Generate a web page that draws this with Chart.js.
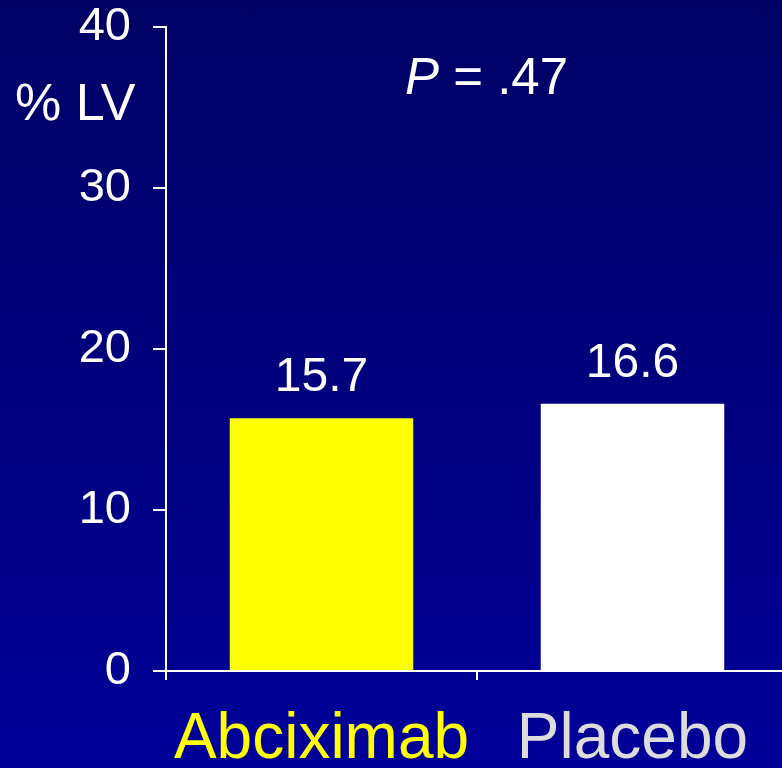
<!DOCTYPE html>
<html>
<head>
<meta charset="utf-8">
<script src="https://cdn.jsdelivr.net/npm/chart.js@4"></script>
<style>
  html, body { margin: 0; padding: 0; width: 782px; height: 768px; overflow: hidden;
    background: linear-gradient(to bottom, #000064 0%, #000098 100%); }
  #wrap { position: absolute; left: 0; top: 0; width: 790px; height: 768px; }
</style>
</head>
<body>
<div id="wrap"><canvas id="c" width="790" height="768"></canvas></div>
<script>
const categories = ["Abciximab", "Placebo"];
const values = [15.7, 16.6];
const barColors = ["#ffff00", "#ffffff"];
const labelColors = ["#ffff00", "#dcdcdc"];
const yMin = 0, yMax = 40, yStep = 10;
const yAxisUnit = "% LV";
const pText = ["P", " = .47"];

const FONT = "'Liberation Sans', Arial, sans-serif";

const overlay = {
  id: 'overlay',
  afterDatasetsDraw(chart) {
    const ctx = chart.ctx;
    const meta = chart.getDatasetMeta(0);
    ctx.save();
    ctx.fillStyle = '#ffffff';
    ctx.textAlign = 'center';
    ctx.textBaseline = 'alphabetic';
    ctx.font = "48px " + FONT;
    meta.data.forEach((bar, i) => {
      ctx.fillText(values[i].toFixed(1), bar.x, bar.y - 27);
    });
    // unit label
    ctx.textAlign = 'left';
    ctx.font = "52px " + FONT;
    ctx.fillText(yAxisUnit, 15, 120);
    // P value
    ctx.font = "italic 51px " + FONT;
    const x0 = 405;
    ctx.fillText(pText[0], x0, 94);
    const w = ctx.measureText(pText[0]).width;
    ctx.font = "51px " + FONT;
    ctx.fillText(pText[1], x0 + w, 94);
    ctx.restore();
  }
};

new Chart(document.getElementById('c'), {
  type: 'bar',
  data: {
    labels: categories,
    datasets: [{
      data: values,
      backgroundColor: barColors,
      borderWidth: 0,
      barPercentage: 0.59,
      categoryPercentage: 1.0
    }]
  },
  options: {
    responsive: false,
    animation: false,
    events: [],
    layout: { padding: { top: 27, right: 2, left: 0, bottom: 0 } },
    plugins: { legend: { display: false }, tooltip: { enabled: false } },
    scales: {
      x: {
        grid: { drawOnChartArea: false, color: '#ffffff', lineWidth: 2, tickLength: 9, offset: true },
        border: { color: '#ffffff', width: 2 },
        ticks: {
          color: labelColors,
          font: { family: FONT, size: 64 },
          padding: 22,
          maxRotation: 0,
          autoSkip: false
        },
        afterFit(scale) { scale.height = 97; scale.paddingLeft = 0; scale.paddingRight = 0; }
      },
      y: {
        min: yMin, max: yMax,
        grid: { drawOnChartArea: false, color: '#ffffff', lineWidth: 2, tickLength: 13 },
        border: { color: '#ffffff', width: 2 },
        ticks: {
          stepSize: yStep,
          color: '#ffffff',
          font: { family: FONT, size: 47 },
          padding: 22
        },
        afterFit(scale) { scale.width = 166; scale.paddingTop = 0; scale.paddingBottom = 0; }
      }
    }
  },
  plugins: [overlay]
});
</script>
</body>
</html>
